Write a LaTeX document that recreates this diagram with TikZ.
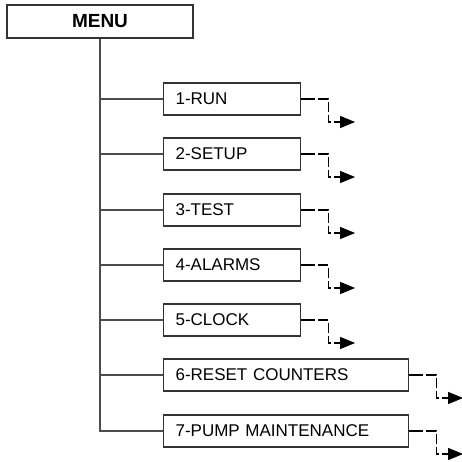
\documentclass[tikz,border=0pt]{standalone}
\usepackage{fontspec}
\setmainfont{Liberation Sans}
\usetikzlibrary{arrows.meta}
\begin{document}
\begin{tikzpicture}[x=1pt,y=-1pt,
  line width=1.1pt,
  menubox/.style={draw=black!80, rectangle, minimum width=186pt, minimum height=33pt, inner sep=0pt, font=\fontsize{19}{22}\selectfont\bfseries},
  itembox/.style={draw=black!80, rectangle, minimum height=32pt, inner xsep=12pt, inner ysep=0pt, align=left, anchor=west, font=\fontsize{17}{20}\selectfont},
  short/.style={itembox, text width=113pt},
  long/.style={itembox, text width=221pt},
  branch/.style={draw=black!70},
  dashlink/.style={draw=black, dash pattern=on 10pt off 3pt, -{Triangle[length=15pt,width=12pt]}}
]
\useasboundingbox (0,0) rectangle (461,462);
\node[menubox] (menu) at (100,21.5) {MENU};
\node[short] (b1) at (163,99) {1-RUN};
\node[short] (b2) at (163,154) {2-SETUP};
\node[short] (b3) at (163,210) {3-TEST};
\node[short] (b4) at (163,265) {4-ALARMS};
\node[short] (b5) at (163,320) {5-CLOCK};
\node[long] (b6) at (163,375) {6-RESET COUNTERS};
\node[long] (b7) at (163,431) {7-PUMP MAINTENANCE};
\draw[branch] (menu.south) -- (menu.south |- b7.west) -- (b7.west);
\foreach \i in {1,...,6}{
  \draw[branch] (menu.south |- b\i.west) -- (b\i.west);
}
\foreach \i in {1,...,7}{
  \draw (b\i.east) -- ++(14,0) coordinate (s\i);
  \draw[dashlink] (s\i) ++(3,0) -- ++(10,0) -- ++(0,23) -- ++(27,0);
}
\end{tikzpicture}
\end{document}
